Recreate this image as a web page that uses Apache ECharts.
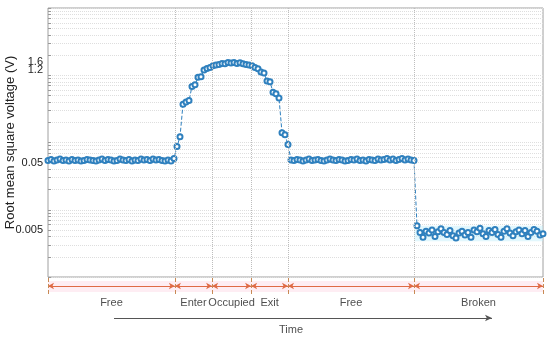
<!DOCTYPE html>
<html>
<head>
<meta charset="utf-8">
<script src="https://cdn.jsdelivr.net/npm/echarts@6/dist/echarts.min.js"></script>
<style>
  html, body { margin: 0; padding: 0; background: #fff; }
  #main { width: 550px; height: 339px; }
</style>
</head>
<body>
<div id="main"></div>
<script>
// RMS voltage samples, one per time step
var free1 = [0.054, 0.056, 0.053, 0.055, 0.057, 0.054, 0.055, 0.053, 0.056, 0.054,
  0.055, 0.053, 0.054, 0.056, 0.055, 0.054, 0.053, 0.055, 0.057, 0.054,
  0.056, 0.055, 0.053, 0.054, 0.057, 0.055, 0.054, 0.056, 0.053, 0.055,
  0.054, 0.057, 0.055, 0.056, 0.054, 0.057, 0.055, 0.056, 0.054, 0.053,
  0.055, 0.053, 0.058];
var hump = [0.087, 0.122, 0.37, 0.40, 0.42, 0.68, 0.72, 0.93, 0.95, 1.2,
  1.26, 1.3, 1.38, 1.42, 1.45, 1.5, 1.48, 1.55, 1.52, 1.55,
  1.5, 1.53, 1.48, 1.45, 1.42, 1.38, 1.3, 1.25, 1.12, 1.08,
  0.82, 0.80, 0.56, 0.53, 0.46, 0.14, 0.13, 0.093];
var free2 = [0.055, 0.054, 0.056, 0.055, 0.053, 0.055, 0.057, 0.054, 0.055, 0.056,
  0.054, 0.053, 0.055, 0.057, 0.055, 0.054, 0.056, 0.055, 0.053, 0.054,
  0.056, 0.055, 0.057, 0.054, 0.055, 0.053, 0.056, 0.055, 0.054, 0.057,
  0.055, 0.056, 0.058, 0.055, 0.057, 0.054, 0.056, 0.058, 0.055, 0.057,
  0.055, 0.054];
var broken = [0.0058, 0.0046, 0.0039, 0.0048, 0.0045, 0.0050, 0.0040, 0.0047, 0.0052, 0.0046,
  0.0043, 0.0049, 0.0041, 0.0038, 0.0045, 0.0048, 0.0042, 0.0046, 0.0039, 0.0050,
  0.0047, 0.0053, 0.0044, 0.0040, 0.0049, 0.0046, 0.0051, 0.0043, 0.0039, 0.0048,
  0.0052, 0.0045, 0.0041, 0.0047, 0.0050, 0.0044, 0.0049, 0.0040, 0.0046, 0.0051,
  0.0048, 0.0042, 0.0044];

var values = free1.concat(hump, free2, broken);
var xMax = values.length - 1;

// segment boundaries (sample index) and names
var bounds = [0, 42.3, 54.7, 67.7, 80, 122, xMax];
var segNames = ['Free', 'Enter', 'Occupied', 'Exit', 'Free', 'Broken'];

// y tick labels (1.6 sits on top of 1.2, so it gets its own axis)
var yTicks = [0.005, 0.05, 1.2, 1.6];

// log gridlines 1..9 x 10^k
var gridVals = [];
[0.001, 0.01, 0.1, 1].forEach(function (p) {
  for (var m = 1; m <= 9; m++) gridVals.push(+(m * p).toPrecision(3));
});
gridVals.push(10);

var blue = '#2f80be';
var lineData = values.map(function (v, i) { return [i, v]; });

function tickLabel(vals) {
  return {
    show: true, customValues: vals, margin: 5, interval: 0, hideOverlap: false,
    color: '#222', fontSize: 11, fontFamily: 'Liberation Sans',
    formatter: function (v) { return String(+v.toPrecision(3)); }
  };
}

var chartDom = document.getElementById('main');
var myChart = echarts.init(chartDom);
var option;

option = {
  animation: false,
  backgroundColor: '#fff',
  textStyle: { fontFamily: 'Liberation Sans' },
  grid: [
    { left: 48, right: 7, top: 8, height: 269, show: true, borderColor: '#a0a0a0', borderWidth: 1,
      outerBoundsMode: 'none', containLabel: false },
    { left: 48, right: 7, top: 278, height: 60, outerBoundsMode: 'none', containLabel: false }
  ],
  xAxis: [
    { type: 'value', gridIndex: 0, min: 0, max: xMax, show: false },
    { type: 'value', gridIndex: 1, min: 0, max: xMax, show: false }
  ],
  yAxis: [
    {
      type: 'log', gridIndex: 0, logBase: 10, min: 0.001, max: 10,
      name: 'Root mean square voltage (V)',
      nameLocation: 'middle',
      nameGap: 31,
      nameMoveOverlap: false,
      nameTextStyle: { fontSize: 13, color: '#222', fontFamily: 'Liberation Sans' },
      axisLine: { show: false },
      axisTick: { show: true, inside: true, length: 3, customValues: gridVals, lineStyle: { color: '#999' } },
      axisLabel: tickLabel(yTicks.slice(0, 3)),
      splitLine: { show: true, lineStyle: { color: '#dedede', type: 'dotted', width: 1 } }
    },
    { type: 'value', gridIndex: 1, min: 0, max: 60, inverse: true, show: false },
    {
      type: 'log', gridIndex: 0, logBase: 10, min: 0.001, max: 10, position: 'left',
      axisLine: { show: false }, axisTick: { show: false }, splitLine: { show: false },
      axisLabel: tickLabel(yTicks.slice(3))
    }
  ],
  series: [
    {
      // vertical boundary gridlines
      type: 'line', xAxisIndex: 0, yAxisIndex: 0, data: [],
      markLine: {
        silent: true, symbol: ['none', 'none'], label: { show: false },
        lineStyle: { color: '#bdbdbd', type: 'dotted', width: 1 },
        data: bounds.slice(1, -1).map(function (b) { return { xAxis: b }; })
      }
    },
    {
      name: 'RMS',
      type: 'line', xAxisIndex: 0, yAxisIndex: 0,
      data: lineData,
      showAllSymbol: true,
      symbol: 'emptyCircle',
      symbolSize: 5,
      lineStyle: { color: blue, width: 1, type: 'dashed' },
      itemStyle: { color: blue, borderWidth: 0.9 },
      markArea: {
        silent: true,
        itemStyle: { color: 'rgba(190,238,250,0.45)' },
        data: [[{ xAxis: bounds[5], yAxis: 0.0034 }, { xAxis: bounds[6], yAxis: 0.0058 }]]
      }
    },
    {
      // segment arrows row
      type: 'line', xAxisIndex: 1, yAxisIndex: 1, data: [],
      markArea: {
        silent: true,
        itemStyle: { color: 'rgba(252,215,228,0.45)' },
        data: [[{ coord: [0, 3] }, { coord: [xMax, 14] }]]
      },
      markLine: {
        silent: true,
        symbol: ['arrow', 'arrow'],
        symbolSize: [5, 6],
        label: { show: false },
        lineStyle: { color: '#df6a45', width: 1, type: 'solid' },
        data: segNames.map(function (n, i) {
          return [{ coord: [bounds[i], 8] }, { coord: [bounds[i + 1], 8] }];
        })
      }
    },
    {
      // boundary ticks
      type: 'line', xAxisIndex: 1, yAxisIndex: 1, data: [],
      markLine: {
        silent: true,
        symbol: ['none', 'none'],
        label: { show: false },
        lineStyle: { color: '#c88a55', width: 1, type: 'dashed' },
        data: bounds.map(function (b) {
          return [{ coord: [b, 0] }, { coord: [b, 16] }];
        })
      }
    },
    {
      // time arrow
      type: 'line', xAxisIndex: 1, yAxisIndex: 1, data: [],
      markLine: {
        silent: true,
        symbol: ['none', 'arrow'],
        symbolSize: [5, 7],
        label: { show: false },
        lineStyle: { color: '#555', width: 1, type: 'solid' },
        data: [[{ coord: [22, 40] }, { coord: [148, 40] }]]
      }
    },
    {
      // labels
      type: 'scatter', xAxisIndex: 1, yAxisIndex: 1,
      symbolSize: 1,
      itemStyle: { color: 'transparent' },
      silent: true,
      label: {
        show: true, position: 'inside', color: '#222', fontSize: 11,
        fontFamily: 'Liberation Sans',
        formatter: function (p) { return p.name; }
      },
      data: segNames.map(function (n, i) {
        return { name: n, value: [(bounds[i] + bounds[i + 1]) / 2, 25] };
      }).concat([{ name: 'Time', value: [81, 52] }])
    }
  ]
};

option && myChart.setOption(option);

window.onresize = function () {
  myChart.resize();
};
</script>
</body>
</html>
